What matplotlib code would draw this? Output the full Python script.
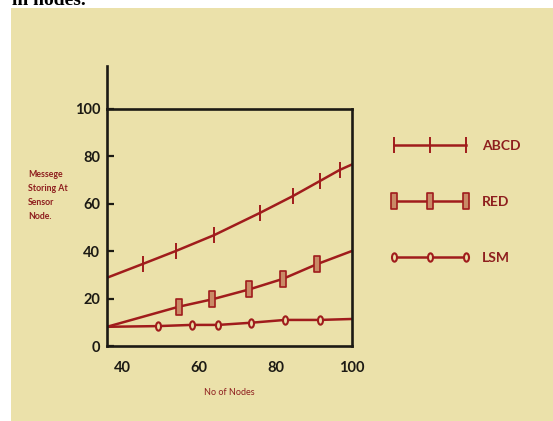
import matplotlib.pyplot as plt
from matplotlib.path import Path
from matplotlib.patches import Rectangle
from matplotlib.transforms import Affine2D

# data
abcd_x = [36, 45.3, 54.0, 64.0, 76.0, 84.6, 91.6, 96.8, 100]
abcd_y = [28.8, 34.6, 40.1, 46.8, 56.2, 63.3, 69.6, 74.3, 76.6]
red_x = [36, 54.8, 63.5, 73.2, 81.9, 90.8, 100]
red_y = [8.1, 16.6, 19.7, 23.9, 28.3, 34.5, 40.1]
lsm_x = [36, 49.4, 58.1, 65.1, 73.5, 82.5, 91.6, 100]
lsm_y = [8.1, 8.4, 8.9, 8.9, 9.8, 11.0, 11.0, 11.4]
x_ticks = [40, 60, 80, 100]
y_ticks = [0, 20, 40, 60, 80, 100]

bg = '#EBE1AA'
line_c = '#A01C1C'
text_c = '#8E1E1E'
dark = '#1C1A14'

plt.rcParams['font.family'] = ['Lato', 'DejaVu Sans']

fig = plt.figure(figsize=(5.53, 4.21), dpi=100)
fig.patch.set_facecolor('white')
fig.patches.append(Rectangle((11 / 553, 0), 1, 1 - 8 / 421, transform=fig.transFigure,
                             facecolor=bg, edgecolor='none', zorder=-10))
# caption line cut off at the top, as in the source picture
fig.text(0.022, 1 - 5 / 421, "in nodes.", fontsize=14, weight='bold', family='Liberation Serif',
         va='baseline', color='black')

ax = fig.add_axes([107 / 553, 1 - 346 / 421, 245 / 553, 237 / 421])
ax.set_facecolor(bg)

rect = Path([(-1, -3), (1, -3), (1, 3), (-1, 3), (-1, -3)],
            [Path.MOVETO, Path.LINETO, Path.LINETO, Path.LINETO, Path.CLOSEPOLY])
oval = Affine2D().scale(0.6, 1.0).transform_path(Path.unit_circle())

ax.plot(abcd_x, abcd_y, color=line_c, lw=1.8, marker='|', markersize=11, mew=1.4,
        markevery=list(range(1, len(abcd_x) - 1)), label='ABCD')
ax.plot(red_x, red_y, color=line_c, lw=1.8, marker=rect, markersize=12, mew=1.2,
        mfc='#C98A66', mec=line_c, markevery=list(range(1, len(red_x) - 1)), label='RED')
ax.plot(lsm_x, lsm_y, color=line_c, lw=1.8, marker=oval, markersize=6, mew=1.5,
        mfc=bg, mec=line_c, markevery=list(range(1, len(lsm_x) - 1)), label='LSM')

ax.set_xlim(36, 100)
ax.set_ylim(0, 100)
ax.set_xticks(x_ticks)
ax.set_yticks(y_ticks)
ax.tick_params(axis='x', length=0, pad=11, labelsize=10.5, labelcolor=dark)
ax.tick_params(axis='y', direction='in', length=5, width=1.6, color=dark, pad=5,
               labelsize=10.5, labelcolor=dark)
for lab in ax.get_xticklabels() + ax.get_yticklabels():
    lab.set_fontweight('bold')
for s in ax.spines.values():
    s.set_linewidth(1.9)
    s.set_color(dark)
ax.plot([0, 0], [1, 1.18], transform=ax.transAxes, color=dark, lw=1.9, clip_on=False)

ax.set_xlabel('No of Nodes', fontsize=6.5, color=text_c, labelpad=9)
fig.text(28 / 553, 1 - 170 / 421, 'Messege\nStoring At\nSensor\nNode.', fontsize=6.3,
         weight='bold', color=text_c, va='top', ha='left', linespacing=1.7)

ax.legend(loc='upper left', bbox_to_anchor=(390 / 553, 1 - 140 / 421),
          bbox_transform=fig.transFigure, frameon=False, numpoints=3,
          handlelength=5.8, handletextpad=0.8, labelspacing=3.15, borderpad=0,
          borderaxespad=0, prop={'size': 10, 'weight': 'bold'}, labelcolor=text_c)

fig.savefig('out.png', dpi=100)
